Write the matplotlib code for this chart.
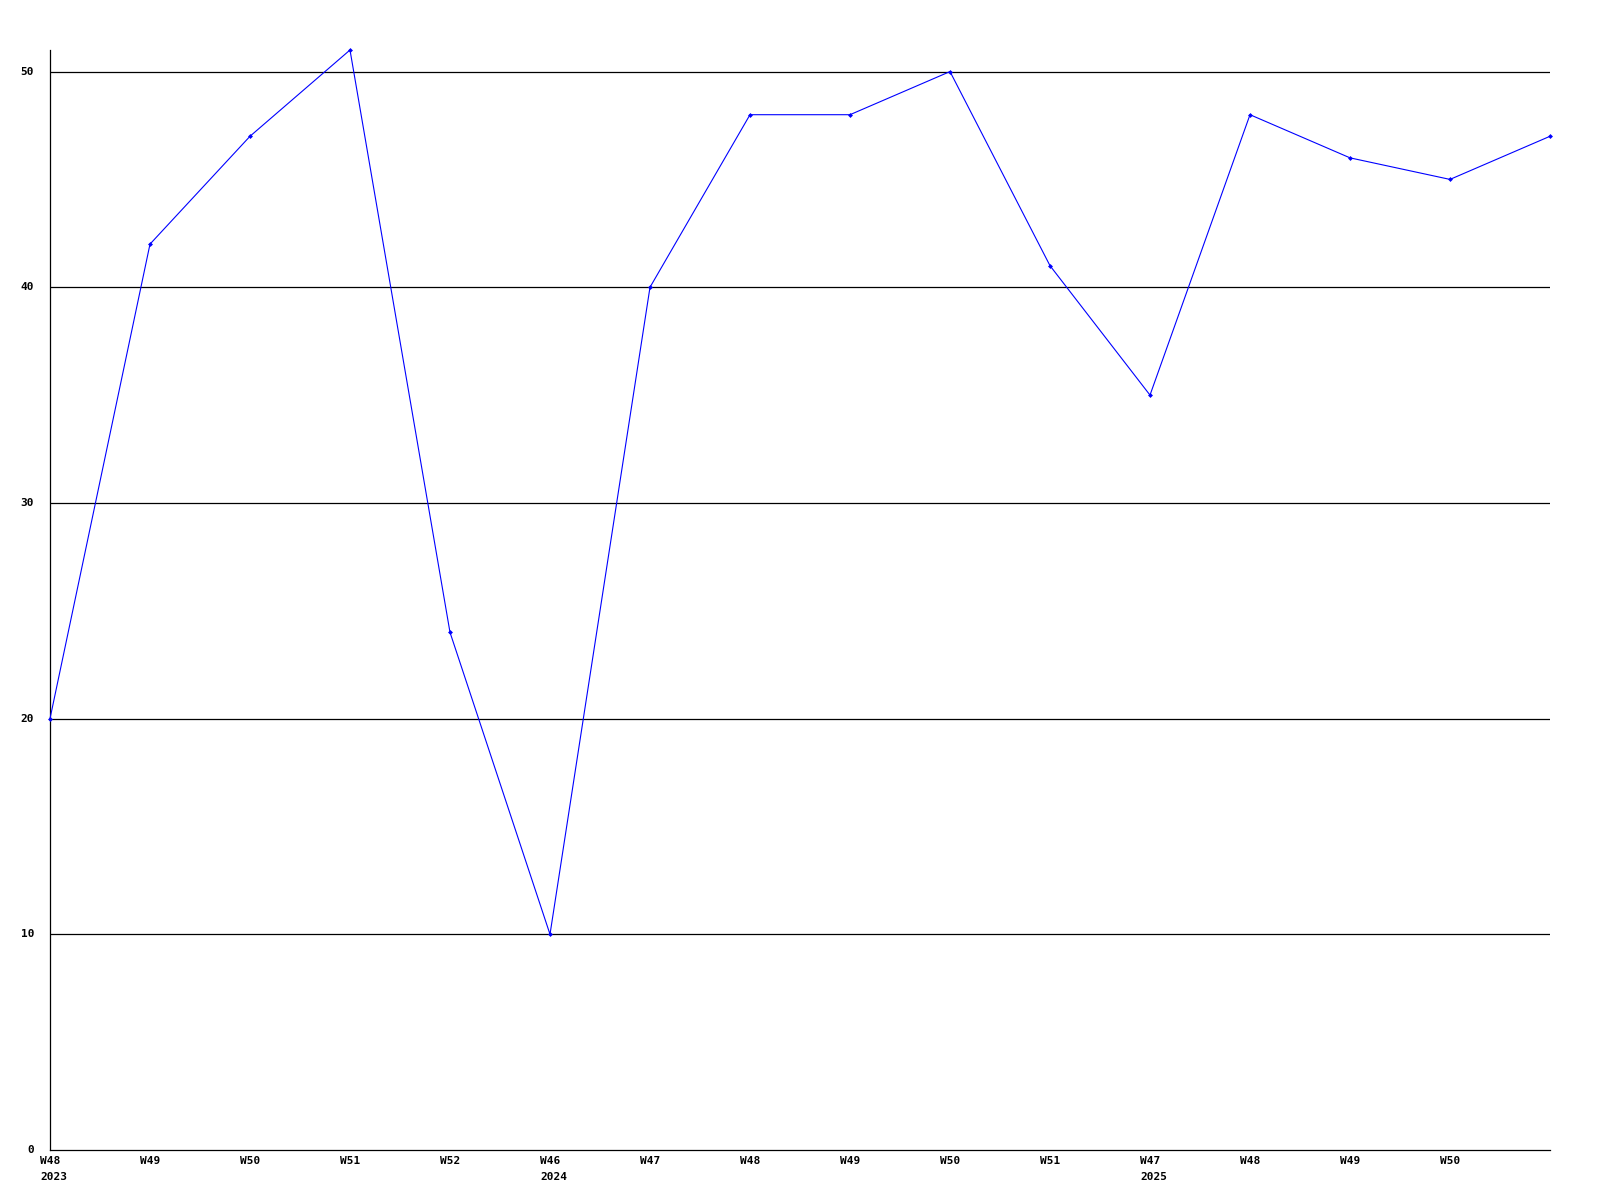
import numpy as np
import matplotlib
matplotlib.use("Agg")
import matplotlib.pyplot as plt
from matplotlib.transforms import offset_copy

# weekly values
weeks = ["W48", "W49", "W50", "W51", "W52", "W46", "W47", "W48",
         "W49", "W50", "W51", "W47", "W48", "W49", "W50", ""]
years = ["2023", "", "", "", "", "2024", "", "",
         "", "", "", "2025", "", "", "", ""]
values = [20, 42, 47, 51, 24, 10, 40, 48, 48, 50, 41, 35, 48, 46, 45, 47]
y_ticks = [0, 10, 20, 30, 40, 50]

fig = plt.figure(figsize=(16, 12), dpi=100)
ax = fig.add_axes([50 / 1600, 50 / 1200, 1500 / 1600, 1100 / 1200])

x = np.arange(len(values))
ax.set_xlim(0, len(values) - 1)
ax.set_ylim(0, 51)

# gridlines
for t in y_ticks[1:]:
    ax.axhline(t, color="black", linewidth=0.9, zorder=1)

ax.plot(x, values, color="#0000ff", linewidth=0.8, marker="D", markersize=2.5,
        markeredgewidth=0, zorder=3, clip_on=False)

for s in ["top", "right"]:
    ax.spines[s].set_visible(False)
for s in ["left", "bottom"]:
    ax.spines[s].set_color("black")
    ax.spines[s].set_linewidth(0.9)

ax.set_xticks([])
ax.set_yticks([])

font = dict(family="DejaVu Sans Mono", weight="bold", size=8)

# y labels
ytr = offset_copy(ax.get_yaxis_transform(), fig=fig, x=-16, y=0, units="dots")
for t in y_ticks:
    ax.text(0, t, str(t), transform=ytr, ha="right", va="center", **font)

# x labels (week + year below)
xtr = offset_copy(ax.get_xaxis_transform(), fig=fig, x=-10, y=-6, units="dots")
for i, (w, yr) in enumerate(zip(weeks, years)):
    lbl = w if not yr else w + "\n" + yr
    ax.text(i, 0, lbl, transform=xtr, ha="left", va="top",
            linespacing=1.7, **font)

fig.savefig("out.png", dpi=100, facecolor="white")
